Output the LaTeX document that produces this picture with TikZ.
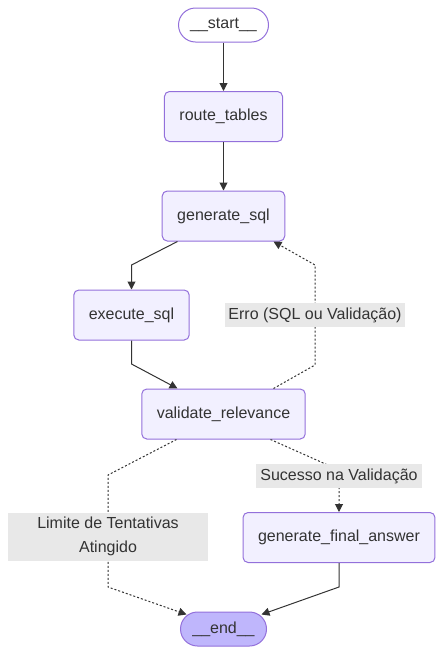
\documentclass[tikz,border=0pt]{standalone}
\usepackage{fontspec}
\setmainfont{Liberation Sans}
\usetikzlibrary{arrows.meta}
\definecolor{nfill}{HTML}{F2F0FF}
\definecolor{nline}{HTML}{9370DB}
\definecolor{efill}{HTML}{BFB6FC}
\definecolor{ink}{HTML}{333333}
\definecolor{lbl}{HTML}{E8E8E8}
\begin{document}
\begin{tikzpicture}[x=1pt,y=-1pt,
    box/.style={draw=nline,fill=nfill,line width=1pt,rounded corners=5pt,minimum height=50pt,inner xsep=15pt,text=ink,font=\fontsize{16}{19}\selectfont},
    term/.style={box,rounded corners=17pt,minimum height=34pt,inner xsep=11pt},
    link/.style={draw=ink,line width=1pt,-{Triangle[length=8pt,width=8pt]}},
    cond/.style={link,dash pattern=on 2pt off 2pt},
    lab/.style={fill=lbl,text=ink,inner sep=3pt,minimum height=24pt,align=center,font=\fontsize{16}{24}\selectfont}]
    \path (0,0) rectangle (443,654);
    \node[term,fill=white,minimum width=90pt] (start) at (223.5,25) {\_\_start\_\_};
    \node[box] (route) at (223.5,116.5) {route\_tables};
    \node[box] (gensql) at (223.5,216) {generate\_sql};
    \node[box] (execsql) at (131.5,315) {execute\_sql};
    \node[box] (validate) at (223.5,414) {validate\_relevance};
    \node[box] (final) at (339,537.5) {generate\_final\_answer};
    \node[term,fill=efill,minimum width=86pt] (fin) at (223.5,629) {\_\_end\_\_};
    \draw[link] (start) -- (route);
    \draw[link] (route) -- (gensql);
    \draw[link] ([xshift=-46pt]gensql.south) -- (execsql.north |- 0,265) -- (execsql.north);
    \draw[link] (execsql.south) -- (execsql.south |- 0,364) -- ([xshift=-46pt]validate.north);
    % retry loop
    \draw[cond] ([xshift=50pt]validate.north) -- (315,365) -- node[lab,minimum width=180pt] (erro) {Erro (SQL ou Validação)} (315,265) -- ([xshift=50pt]gensql.south);
    \draw[cond] ([xshift=-47pt]validate.south) -- (108,475) -- node[lab,minimum width=200pt,minimum height=48pt,pos=.55] (limite) {Limite de Tentativas\\Atingido} (108,587) -- ([xshift=-37pt,yshift=-3pt]fin.north);
    \draw[cond] ([xshift=47pt]validate.south) -- (339,470) -- node[lab,minimum width=166pt,pos=.15] (sucesso) {Sucesso na Validação} (final.north);
    \draw[link] (final.south) -- (final.south |- 0,587) -- ([xshift=38pt,yshift=-3pt]fin.north);
\end{tikzpicture}
\end{document}
